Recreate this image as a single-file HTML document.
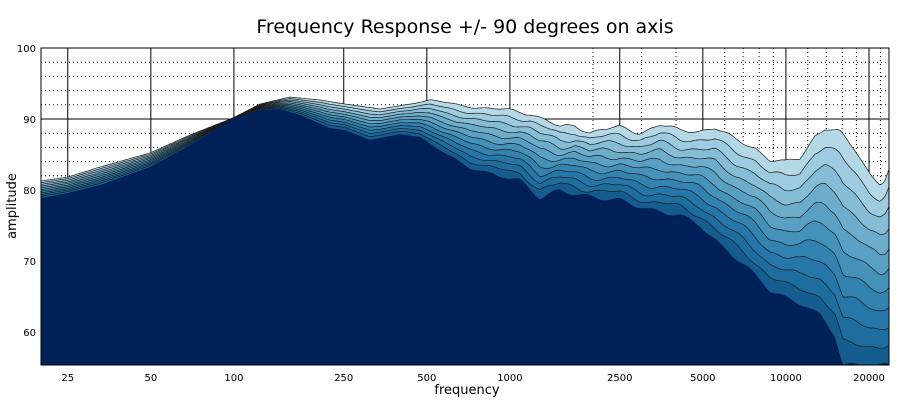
<!DOCTYPE html>
<html><head><meta charset="utf-8"><style>
html,body{margin:0;padding:0;background:#fff;}
svg{display:block;font-family:"DejaVu Sans","Liberation Sans",sans-serif;}
</style></head><body>
<svg id="s" width="900" height="400" viewBox="0 0 900 400" xmlns="http://www.w3.org/2000/svg">
<rect width="900" height="400" fill="#fff"/>
<text x="465" y="33" font-size="19" text-anchor="middle" fill="#000">Frequency Response +/- 90 degrees on axis</text>
<g id="grid"></g>
<g id="layers"></g>
<g id="lines"></g>
<rect x="41" y="48" width="848" height="317" fill="none" stroke="#000" stroke-width="1"/>
<g id="labels" font-size="10" fill="#000"></g>
<text x="467" y="394" font-size="13" text-anchor="middle">frequency</text>
<text transform="translate(16,206) rotate(-90)" font-size="13" text-anchor="middle">amplitude</text>
</svg>
<script>
(function(){
var NS="http://www.w3.org/2000/svg";
function el(t,a,p){var e=document.createElementNS(NS,t);for(var k in a)e.setAttribute(k,a[k]);document.getElementById(p).appendChild(e);return e;}
function fx(f){return 41+276*Math.log10(f/20);}
function vy(v){return 48+(100-v)*7.1;}
for(var v=56;v<100;v+=2){if(v%10==0)continue;el('line',{x1:41,x2:889,y1:vy(v),y2:vy(v),stroke:'#000','stroke-width':1,'stroke-dasharray':'1,3'},'grid');}
var minors=[2000,3000,4000,6000,7000,8000,9000,12000,14000,16000,18000,22000];
minors.forEach(function(f){el('line',{x1:fx(f),x2:fx(f),y1:48,y2:365,stroke:'#000','stroke-width':1,'stroke-dasharray':'1,3'},'grid');});
[60,70,80,90].forEach(function(v){el('line',{x1:41,x2:889,y1:vy(v),y2:vy(v),stroke:'#000','stroke-width':1},'grid');});
var majors=[25,50,100,250,500,1000,2500,5000,10000,20000];
majors.forEach(function(f){el('line',{x1:fx(f),x2:fx(f),y1:48,y2:365,stroke:'#000','stroke-width':1},'grid');});
majors.forEach(function(f){var t=el('text',{x:fx(f),y:381,'text-anchor':'middle'},'labels');t.textContent=f;});
[60,70,80,90,100].forEach(function(v){var t=el('text',{x:36,y:vy(v)+4,'text-anchor':'end'},'labels');t.textContent=v;});
var topC=[[41,181],[68,177],[100,167],[150,153],[190,135],[233,118],[260,104],[290,97],[320,100],[345,104],[380,109],[410,104],[430,100],[460,105],[490,109],[509,110],[530,113],[545,120],[560,128],[575,125],[590,132],[600,130],[620,128],[640,132],[660,125],[680,131],[700,130],[715,128],[735,140],[755,147],[770,160],[785,163],[800,158],[815,135],[825,128],[840,133],[855,150],[870,173],[880,183],[885,180],[889,170]];
var botC=[[41,198],[68,193],[100,185],[150,167],[190,145],[233,118],[260,110],[280,109],[300,115],[330,128],[345,130],[370,140],[400,134],[420,137],[440,150],[470,168],[500,176],[520,180],[540,198],[560,190],[580,195],[600,198],[620,200],[650,210],[680,215],[700,225],[720,245],[745,265],[770,290],[790,300],[805,305],[820,315],[835,335],[843,365],[889,365]];
function interp(c,x){for(var i=0;i<c.length-1;i++){if(x>=c[i][0]&&x<=c[i+1][0]){var t=(x-c[i][0])/(c[i+1][0]-c[i][0]);return c[i][1]+t*(c[i+1][1]-c[i][1]);}}return c[c.length-1][1];}
var xs=[];for(var x=41;x<=889;x+=1.5)xs.push(x);xs.push(889);
var cols=['#b4d8e6','#9dcbdf','#86bdd6','#6cadcc','#5aa0c4','#4491ba','#3383b0','#2477a8','#1d6e9e','#145d8e','#002157'];
var N=cols.length;
for(var i=0;i<N;i++){
  var t=i/(N-1);
  var pts=xs.map(function(x){var a=interp(topC,x),b=interp(botC,x);var k=(x-400)/150;k=k<0?0:(k>1?1:k);
    var wig=(i<N-1)?(1.8*Math.sin(x*0.11+i*0.7)+1.2*Math.sin(x*0.23+i*1.3))*k:2.0*Math.sin(x*0.19)*k;
    return [x,Math.min(365,a+(b-a)*t+wig)];});
  var s=pts.map(function(p){return p[0].toFixed(1)+','+p[1].toFixed(1);}).join(' L');
  el('path',{d:'M'+s+' L889,365 L41,365 Z',fill:cols[i]},'layers');
  if(i<N-1){el('path',{d:'M'+s,fill:'none',stroke:'#1a1a1a','stroke-width':0.7},'lines');}
}
})();
</script>
</body></html>
